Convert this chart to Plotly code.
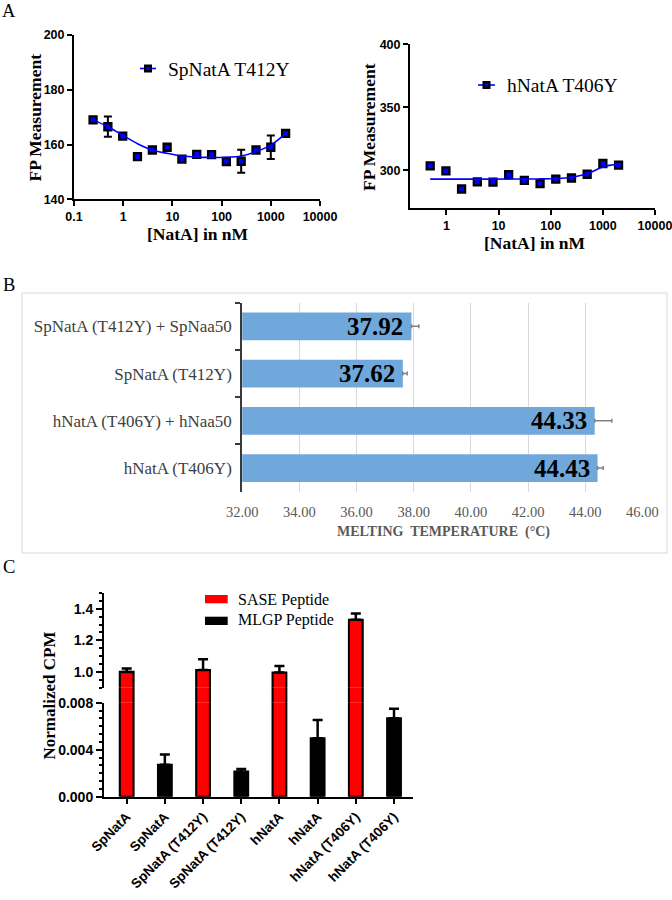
import plotly.graph_objects as go

W, H = 672, 900
def px(x):
    return x / W
def py(y):
    return 1 - y / H

SERIF = "Liberation Serif"
SANS = "Liberation Sans"

# ---------------- Data ----------------
# Panel A (left) SpNatA T412Y
conc_sp = [0.244, 0.488, 0.977, 1.95, 3.91, 7.81, 15.6, 31.25, 62.5, 125, 250, 500, 1000, 2000]
fp_sp = [169.0, 166.5, 163.1, 155.6, 158.0, 159.0, 154.7, 156.4, 156.3, 153.8, 153.9, 158.0, 159.0, 164.1]
fp_sp_err = [1.1, 3.7, 0.8, 1.0, 0.8, 1.1, 1.0, 0.8, 1.0, 0.6, 4.2, 1.1, 4.3, 1.1]
fit_sp = [169.0, 166.5, 163.4, 160.3, 158.0, 156.8, 155.8, 155.4, 155.3, 155.3, 155.8, 157.4, 159.8, 164.1]

# Panel A (right) hNatA T406Y
conc_h = [0.488, 0.977, 1.95, 3.91, 7.81, 15.6, 31.25, 62.5, 125, 250, 500, 1000, 2000]
fp_h = [303.7, 299.7, 285.3, 291.0, 290.8, 296.6, 292.1, 289.6, 293.1, 294.0, 297.0, 305.5, 304.2]
fit_h = [293.1, 293.1, 293.1, 293.1, 293.1, 293.2, 293.2, 293.3, 293.6, 294.6, 297.3, 302.8, 305.0]

x_ticks_sp = [0.1, 1, 10, 100, 1000, 10000]
x_ticks_h = [1, 10, 100, 1000, 10000]
y_ticks_sp = [140, 160, 180, 200]
y_ticks_h = [300, 350, 400]

# Panel B melting temperature
tm_labels = ["SpNatA (T412Y) + SpNaa50", "SpNatA (T412Y)", "hNatA (T406Y) + hNaa50", "hNatA (T406Y)"]
tm_values = [37.92, 37.62, 44.33, 44.43]
tm_err = [0.26, 0.15, 0.60, 0.20]

# Panel C normalized CPM
cpm_labels = ["SpNatA", "SpNatA", "SpNatA (T412Y)", "SpNatA (T412Y)",
              "hNatA", "hNatA", "hNatA (T406Y)", "hNatA (T406Y)"]
sase_pos = [0, 2, 4, 6]
sase = [1.0, 1.012, 0.996, 1.33]
sase_err = [0.022, 0.068, 0.042, 0.04]
mlgp_pos = [1, 3, 5, 7]
mlgp = [0.00272, 0.00213, 0.00497, 0.00667]
mlgp_err = [0.00087, 0.00022, 0.00156, 0.00082]

# ---------------- Traces ----------------
fig = go.Figure()

marker_a = dict(symbol="square", size=7, color="#0000ff", line=dict(color="black", width=2.3))

fig.add_trace(go.Scatter(x=conc_sp, y=fp_sp, mode="markers", marker=marker_a,
                         error_y=dict(type="data", array=fp_sp_err, color="black", thickness=2, width=4),
                         xaxis="x", yaxis="y", showlegend=False))
fig.add_trace(go.Scatter(x=conc_sp, y=fit_sp, mode="lines",
                         line=dict(color="#0000ff", width=1.6, shape="spline"),
                         xaxis="x", yaxis="y", showlegend=False))

fig.add_trace(go.Scatter(x=conc_h, y=fp_h, mode="markers", marker=marker_a,
                         xaxis="x2", yaxis="y2", showlegend=False))
fig.add_trace(go.Scatter(x=conc_h, y=fit_h, mode="lines",
                         line=dict(color="#0000ff", width=1.6, shape="spline"),
                         xaxis="x2", yaxis="y2", showlegend=False))

fig.add_trace(go.Bar(x=tm_values, y=tm_labels, orientation="h", width=0.59,
                     marker=dict(color="#70a8dc", line=dict(width=0)),
                     error_x=dict(type="data", array=tm_err, arrayminus=[0] * len(tm_err),
                                  color="#808080", thickness=1.5, width=2),
                     xaxis="x3", yaxis="y3", showlegend=False))

bar_w = 0.36
red_marker = dict(color="#ff0000", line=dict(color="black", width=2.1))
# SASE bars drawn on lower segment, gap segment and upper segment of the broken axis
fig.add_trace(go.Bar(x=sase_pos, y=sase, width=bar_w, marker=red_marker,
                     xaxis="x4", yaxis="y4", showlegend=False))
fig.add_trace(go.Bar(x=sase_pos, y=sase, width=bar_w, marker=red_marker,
                     xaxis="x4", yaxis="y6", showlegend=False))
fig.add_trace(go.Bar(x=sase_pos, y=sase, width=bar_w, marker=red_marker,
                     error_y=dict(type="data", array=sase_err, arrayminus=[0] * 4,
                                  color="black", thickness=2.5, width=5),
                     xaxis="x4", yaxis="y5", showlegend=False))
fig.add_trace(go.Bar(x=mlgp_pos, y=mlgp, width=bar_w,
                     marker=dict(color="black", line=dict(color="black", width=2.1)),
                     error_y=dict(type="data", array=mlgp_err, arrayminus=[0] * 4,
                                  color="black", thickness=2.5, width=5),
                     xaxis="x4", yaxis="y4", showlegend=False))

# ---------------- Axes ----------------
def a_axis(**kw):
    d = dict(showline=True, linecolor="black", linewidth=2, ticks="outside", ticklen=5,
             tickwidth=2, tickcolor="black", showgrid=False, zeroline=False,
             ticklabeloverflow="allow",
             tickfont=dict(family=SANS, size=12.5, color="black", weight="bold"))
    d.update(kw)
    return d

fmt = lambda v: f"{v:g}"
c_font = dict(family=SANS, size=14, color="black", weight="bold")

layout = dict(
    width=W, height=H, margin=dict(l=0, r=0, t=0, b=0),
    paper_bgcolor="white", plot_bgcolor="white", template="none",
    barmode="overlay", showlegend=False,
    xaxis=a_axis(domain=[px(74), px(320)], type="log", range=[-1, 4], anchor="y",
                 tickvals=x_ticks_sp, ticktext=[fmt(v) for v in x_ticks_sp]),
    yaxis=a_axis(domain=[py(199.3), py(35)], range=[140, 200], anchor="x",
                 tickvals=y_ticks_sp, ticktext=[fmt(v) for v in y_ticks_sp]),
    xaxis2=a_axis(domain=[px(410), px(655)], type="log", range=[-0.699, 4.0001], anchor="y2",
                  tickvals=x_ticks_h, ticktext=[fmt(v) for v in x_ticks_h]),
    yaxis2=a_axis(domain=[py(208.3), py(44.3)], range=[270, 400], anchor="x2",
                  tickvals=y_ticks_h, ticktext=[fmt(v) for v in y_ticks_h]),
    xaxis3=dict(domain=[px(242.2), px(643)], range=[32, 46.02], dtick=2, tick0=32,
                tickformat=".2f", showgrid=True, gridcolor="#d9d9d9", gridwidth=1,
                showline=False, zeroline=False, ticks="outside", ticklen=7,
                tickcolor="rgba(0,0,0,0)", anchor="y3",
                tickfont=dict(family=SERIF, size=14.5, color="#595959")),
    yaxis3=dict(domain=[py(491.7), py(302.7)], type="category", categoryorder="array",
                categoryarray=tm_labels, range=[3.5, -0.5], showline=True,
                linecolor="#3a3a3a", linewidth=2, ticks="outside", tickson="boundaries",
                ticklen=5, tickwidth=2, tickcolor="#3a3a3a", showgrid=False, zeroline=False,
                anchor="x3", ticklabelstandoff=5,
                tickfont=dict(family=SERIF, size=17, color="#404040")),
    xaxis4=dict(domain=[px(104), px(413.3)], range=[-0.594, 7.505], anchor="y4",
                tickvals=list(range(len(cpm_labels))), ticktext=cpm_labels, tickangle=-45,
                showline=True, linecolor="black", linewidth=2, ticks="outside", ticklen=5,
                tickwidth=2, tickcolor="black", showgrid=False, zeroline=False,
                tickfont=dict(family=SANS, size=13.5, color="black", weight="bold")),
    yaxis4=dict(domain=[py(796.7), py(702.7)], range=[0, 0.008], anchor="x4",
                tickmode="linear", tick0=0, dtick=0.004, tickformat=".3f",
                showline=True, linecolor="black", linewidth=2,
                ticks="outside", ticklen=6, tickwidth=2, tickcolor="black",
                showgrid=False, zeroline=False,
                minor=dict(tickmode="linear", tick0=0, dtick=0.004 / 6,
                           ticks="outside", ticklen=3.5, tickwidth=1.5, tickcolor="black"),
                tickfont=c_font),
    # gap segment of the broken axis: the SASE bars pass straight through it
    yaxis6=dict(domain=[py(702.7), py(687.7)], range=[0.5, 0.6], anchor="x4", visible=False,
                showgrid=False, zeroline=False),
    yaxis5=dict(domain=[py(687.7), py(593)], range=[0.9, 1.5], anchor="x4",
                tickmode="linear", tick0=1.0, dtick=0.2, tickformat=".1f",
                showline=True, linecolor="black", linewidth=2, ticks="outside", ticklen=6,
                tickwidth=2, tickcolor="black", showgrid=False, zeroline=False,
                minor=dict(tickmode="linear", tick0=0.9, dtick=0.05,
                           ticks="outside", ticklen=3.5, tickwidth=1.5, tickcolor="black"),
                tickfont=c_font),
)
fig.update_layout(**layout)

# ---------------- Shapes ----------------
shapes = []
# Panel B chart border
shapes.append(dict(type="rect", xref="paper", yref="paper", x0=px(22), x1=px(667),
                   y0=py(553), y1=py(293), line=dict(color="#d9d9d9", width=1), layer="below"))

def legend_marker(cx, cy, x0, x1):
    return [
        dict(type="line", xref="paper", yref="paper", x0=px(x0), x1=px(x1), y0=py(cy), y1=py(cy),
             line=dict(color="#0000ff", width=1.6)),
        dict(type="rect", xref="paper", yref="paper", x0=px(cx - 4), x1=px(cx + 4),
             y0=py(cy + 4), y1=py(cy - 4), fillcolor="black", line=dict(width=0)),
        dict(type="rect", xref="paper", yref="paper", x0=px(cx - 1.7), x1=px(cx + 1.7),
             y0=py(cy + 1.7), y1=py(cy - 1.7), fillcolor="#0000ff", line=dict(width=0)),
    ]

shapes += legend_marker(148, 68.5, 140, 156)
shapes += legend_marker(486.5, 85, 478, 495)
# Panel C legend boxes
shapes.append(dict(type="rect", xref="paper", yref="paper", x0=px(205), x1=px(227.7),
                   y0=py(603.3), y1=py(595), fillcolor="#ff0000", line=dict(width=0)))
shapes.append(dict(type="rect", xref="paper", yref="paper", x0=px(205), x1=px(227.7),
                   y0=py(625), y1=py(616.7), fillcolor="black", line=dict(width=0)))
fig.update_layout(shapes=shapes)

# ---------------- Annotations ----------------
ann = []
def text(x, y, s, size, family=SERIF, bold=False, color="black", xanchor="center", angle=0):
    ann.append(dict(x=px(x), y=py(y), xref="paper", yref="paper", text=s, showarrow=False,
                    xanchor=xanchor, yanchor="middle", textangle=angle,
                    font=dict(family=family, size=size, color=color,
                              weight="bold" if bold else "normal")))

# panel letters
text(9, 11, "A", 18.5)
text(9, 285, "B", 18.5)
text(8.5, 566.5, "C", 18.5)

# Panel A titles
text(35, 117.5, "FP Measurement", 17.5, bold=True, angle=-90)
text(198.3, 234, "[NatA] in nM", 17.5, bold=True)
text(369, 127, "FP Measurement", 17.5, bold=True, angle=-90)
text(535, 243, "[NatA] in nM", 17.5, bold=True)
# Panel A legends
text(165.5, 69, "SpNatA T412Y", 19.5, xanchor="left")
text(504.5, 85, "hNatA T406Y", 19.5, xanchor="left")

# Panel B title
text(443, 531.5, "MELTING  TEMPERATURE  (°C)", 14, bold=True, color="#595959")

# Panel C
text(48.5, 695, "Normalized CPM", 17, bold=True, angle=-90)
text(235.5, 600, "SASE Peptide", 16, xanchor="left")
text(235.5, 619.5, "MLGP Peptide", 16, xanchor="left")

fig.update_layout(annotations=ann)

# value labels on bars (positioned via the axis scale)
for lab, v in zip(tm_labels, tm_values):
    fig.add_annotation(x=v, y=lab, xref="x3", yref="y3", text=f"{v:.2f}", showarrow=False,
                       xanchor="right", yanchor="middle", xshift=-6,
                       font=dict(family=SERIF, size=25, color="black", weight="bold"))

fig.write_html("out.html", config={"displayModeBar": False},
               post_script="document.body.style.margin='0';document.body.style.overflow='hidden';")
